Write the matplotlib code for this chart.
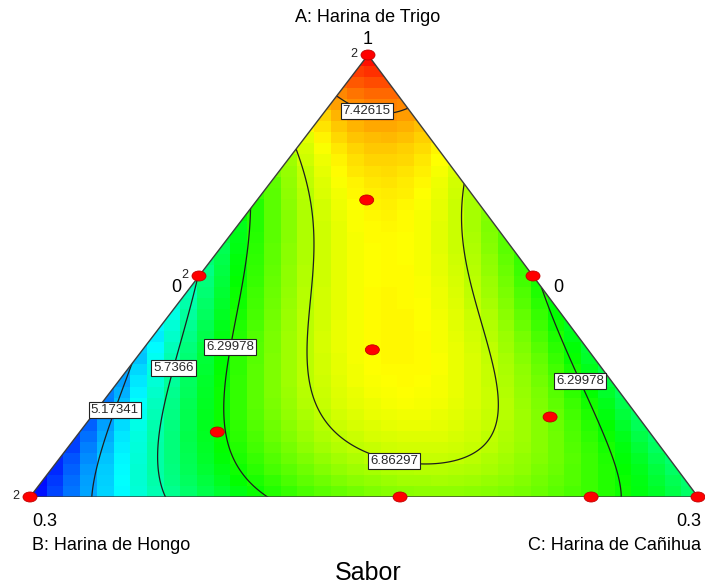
import numpy as np
import matplotlib.pyplot as plt
from matplotlib.colors import LinearSegmentedColormap
from matplotlib.patches import Polygon, Ellipse

plt.rcParams['font.family'] = ['Liberation Sans', 'DejaVu Sans']

# special cubic Scheffe model for Sabor, in pseudo components (A, B, C)
coef_lin = [7.9, 4.6, 5.9]
coef_ab = -2.0
coef_ac = -2.2
coef_bc = 5.4
coef_abc = 21.6

levels = [5.17341, 5.7366, 6.29978, 6.86297, 7.42615]

# design runs and their replicate counts
run_a = [1.0, 0.0, 0.0, 0.5, 0.5, 0.333, 0.672, 0.147, 0.181, 0.0, 0.0]
run_b = [0.0, 1.0, 0.0, 0.5, 0.0, 0.323, 0.164, 0.647, 0.132, 0.446, 0.160]
run_c = [0.0, 0.0, 1.0, 0.0, 0.5, 0.344, 0.164, 0.206, 0.687, 0.554, 0.840]
run_reps = [2, 2, 1, 2, 1, 1, 1, 1, 1, 1, 1]

# where the contour values get written (A, C)
label_a = [0.871, 0.339, 0.292, 0.197, 0.090, 0.267]
label_c = [0.063, 0.126, 0.068, 0.025, 0.501, 0.696]

W, H = 705, 588
APEX = 0.506  # horizontal position of the A vertex along the base


def sabor(a, b, c):
    return (coef_lin[0] * a + coef_lin[1] * b + coef_lin[2] * c
            + coef_ab * a * b + coef_ac * a * c + coef_bc * b * c
            + coef_abc * a * b * c)


def to_xy(a, c):
    return np.asarray(c) + APEX * np.asarray(a), np.asarray(a)


def fig_text(px, py, s, **kw):
    fig.text(px / W, 1 - py / H, s, **kw)


fig = plt.figure(figsize=(W / 100, H / 100), dpi=100)
ax = fig.add_axes([30 / W, 91 / H, 668 / W, 442 / H])
ax.set_xlim(0, 1)
ax.set_ylim(0, 1)
ax.axis('off')

tri = Polygon([(0, 0), (1, 0), (APEX, 1)], closed=True, fill=False,
              edgecolor='#3c3c3c', lw=1.0, zorder=4)
ax.add_patch(tri)

cmap = LinearSegmentedColormap.from_list(
    'de', ['#0000ff', '#00ffff', '#00ff00', '#ffff00', '#ff0000'])

# blocky colour fill, one value per cell
n = 40
edges = np.linspace(0, 1, n + 1)
mid = (edges[:-1] + edges[1:]) / 2
XC, YC = np.meshgrid(mid, mid)
A = YC
C = np.clip(XC - APEX * YC, 0, 1 - A)
B = 1 - A - C
Zc = sabor(A, B, C)
vmin, vmax = sabor(0, 1, 0), sabor(1, 0, 0)
mesh = ax.pcolormesh(edges, edges, Zc, cmap=cmap, vmin=vmin, vmax=vmax,
                     shading='flat', zorder=1)
mesh.set_clip_path(tri)

# contour lines on a fine grid
g = np.linspace(-0.01, 1.01, 400)
X, Y = np.meshgrid(g, g)
Af = Y
Cf = X - APEX * Y
Bf = 1 - Af - Cf
Z = sabor(Af, Bf, Cf)
cs = ax.contour(X, Y, Z, levels=levels, colors='#1e1e1e', linewidths=0.9,
                zorder=2)
cs.set_clip_path(tri)

lx, ly = to_xy(label_a, label_c)
texts = ax.clabel(cs, levels, inline=False, fmt='%g', fontsize=9.5,
                  manual=list(zip(lx, ly)))
for t in texts:
    t.set_rotation(0)
    t.set_color('#2a2a2a')
    t.set_zorder(6)
    t.set_bbox(dict(facecolor='white', edgecolor='#222222', lw=0.8,
                    boxstyle='square,pad=0.15'))

# design points
px, py = to_xy(run_a, run_c)
for x, y, r in zip(px, py, run_reps):
    ax.add_patch(Ellipse((x, y), 14 / 668, 10 / 442, facecolor='#ff0000',
                         edgecolor='#c00000', lw=0.6, clip_on=False,
                         zorder=7))
    if r > 1:
        ax.annotate(str(r), (x, y), xytext=(-10, 1),
                    textcoords='offset points', ha='center', va='center',
                    fontsize=9, color='#222222', annotation_clip=False)

fig_text(368, 18, 'A: Harina de Trigo', ha='center', va='center', fontsize=13)
fig_text(368, 40, '1', ha='center', va='center', fontsize=13)
fig_text(176, 287, '0', ha='center', va='center', fontsize=13)
fig_text(558, 287, '0', ha='center', va='center', fontsize=13)
fig_text(32, 521, '0.3', ha='left', va='center', fontsize=13)
fig_text(701, 521, '0.3', ha='right', va='center', fontsize=13)
fig_text(32, 545, 'B: Harina de Hongo', ha='left', va='center', fontsize=13)
fig_text(701, 545, 'C: Harina de Cañihua', ha='right', va='center',
         fontsize=13)
fig_text(368, 573, 'Sabor', ha='center', va='center', fontsize=18)

fig.savefig('out.png', dpi=100)
